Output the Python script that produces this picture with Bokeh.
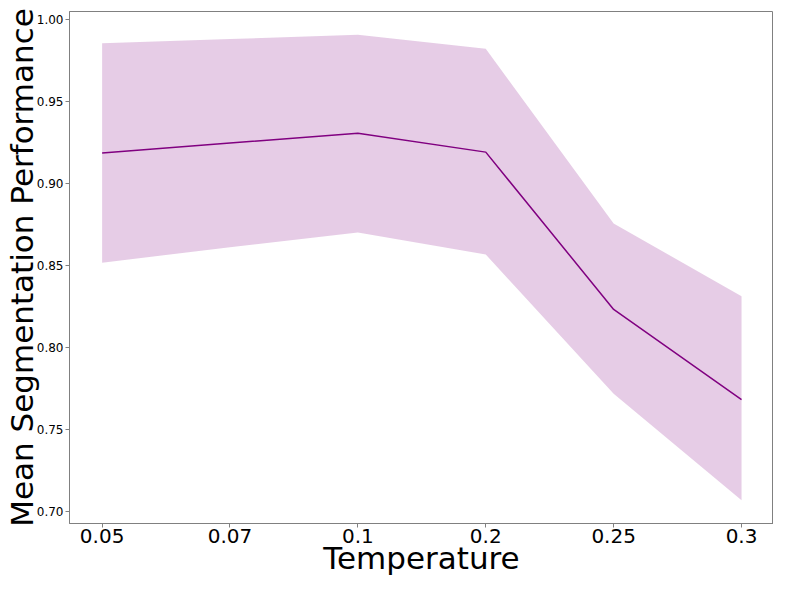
from bokeh.plotting import figure
from bokeh.models import Range1d, FixedTicker, NumeralTickFormatter
from bokeh.embed import file_html
from bokeh.resources import INLINE

# Data
temperatures = ["0.05", "0.07", "0.1", "0.2", "0.25", "0.3"]
mean_perf = [0.9185, 0.9245, 0.9305, 0.919, 0.823, 0.768]
upper_perf = [0.9854, 0.988, 0.9906, 0.982, 0.8755, 0.831]
lower_perf = [0.8515, 0.861, 0.870, 0.8565, 0.7716, 0.7066]
y_ticks = [0.70, 0.75, 0.80, 0.85, 0.90, 0.95, 1.00]

xs = list(range(len(temperatures)))

p = figure(
    width=773, height=578,
    output_backend="svg", toolbar_location=None,
    x_range=Range1d(-0.255, 5.25),
    y_range=Range1d(0.6924, 1.0048),
    min_border_left=62, min_border_right=0,
    min_border_top=11, min_border_bottom=46,
)

p.varea(x=xs, y1=lower_perf, y2=upper_perf, fill_color="purple", fill_alpha=0.2)
p.line(x=xs, y=mean_perf, line_color="purple", line_width=1.5)

p.xgrid.visible = False
p.ygrid.visible = False
p.outline_line_color = "#808080"
p.outline_line_width = 1

p.xaxis.ticker = FixedTicker(ticks=xs)
p.xaxis.major_label_overrides = {i: t for i, t in enumerate(temperatures)}
p.yaxis.ticker = FixedTicker(ticks=y_ticks)
p.yaxis.formatter = NumeralTickFormatter(format="0.00")

for ax in (p.xaxis[0], p.yaxis[0]):
    ax.axis_line_color = "#808080"
    ax.major_tick_line_color = "#808080"
    ax.minor_tick_line_color = None
    ax.major_tick_out = 4
    ax.major_tick_in = 0
    ax.major_label_text_color = "black"
    ax.major_label_text_font = "DejaVu Sans"
    ax.axis_label_text_font = "DejaVu Sans"
    ax.axis_label_text_font_style = "normal"
    ax.axis_label_text_color = "black"
    ax.axis_label_text_font_size = "31px"
    ax.major_label_standoff = 2

p.xaxis.major_label_standoff = 1
p.xaxis.axis_label_standoff = -6
p.yaxis.axis_label_standoff = -6
p.xaxis.major_label_text_font_size = "20px"
p.yaxis.major_label_text_font_size = "12px"
p.xaxis.axis_label = "Temperature"
p.yaxis.axis_label = "Mean Segmentation Performance"

open("out.html", "w").write(file_html(p, INLINE))
